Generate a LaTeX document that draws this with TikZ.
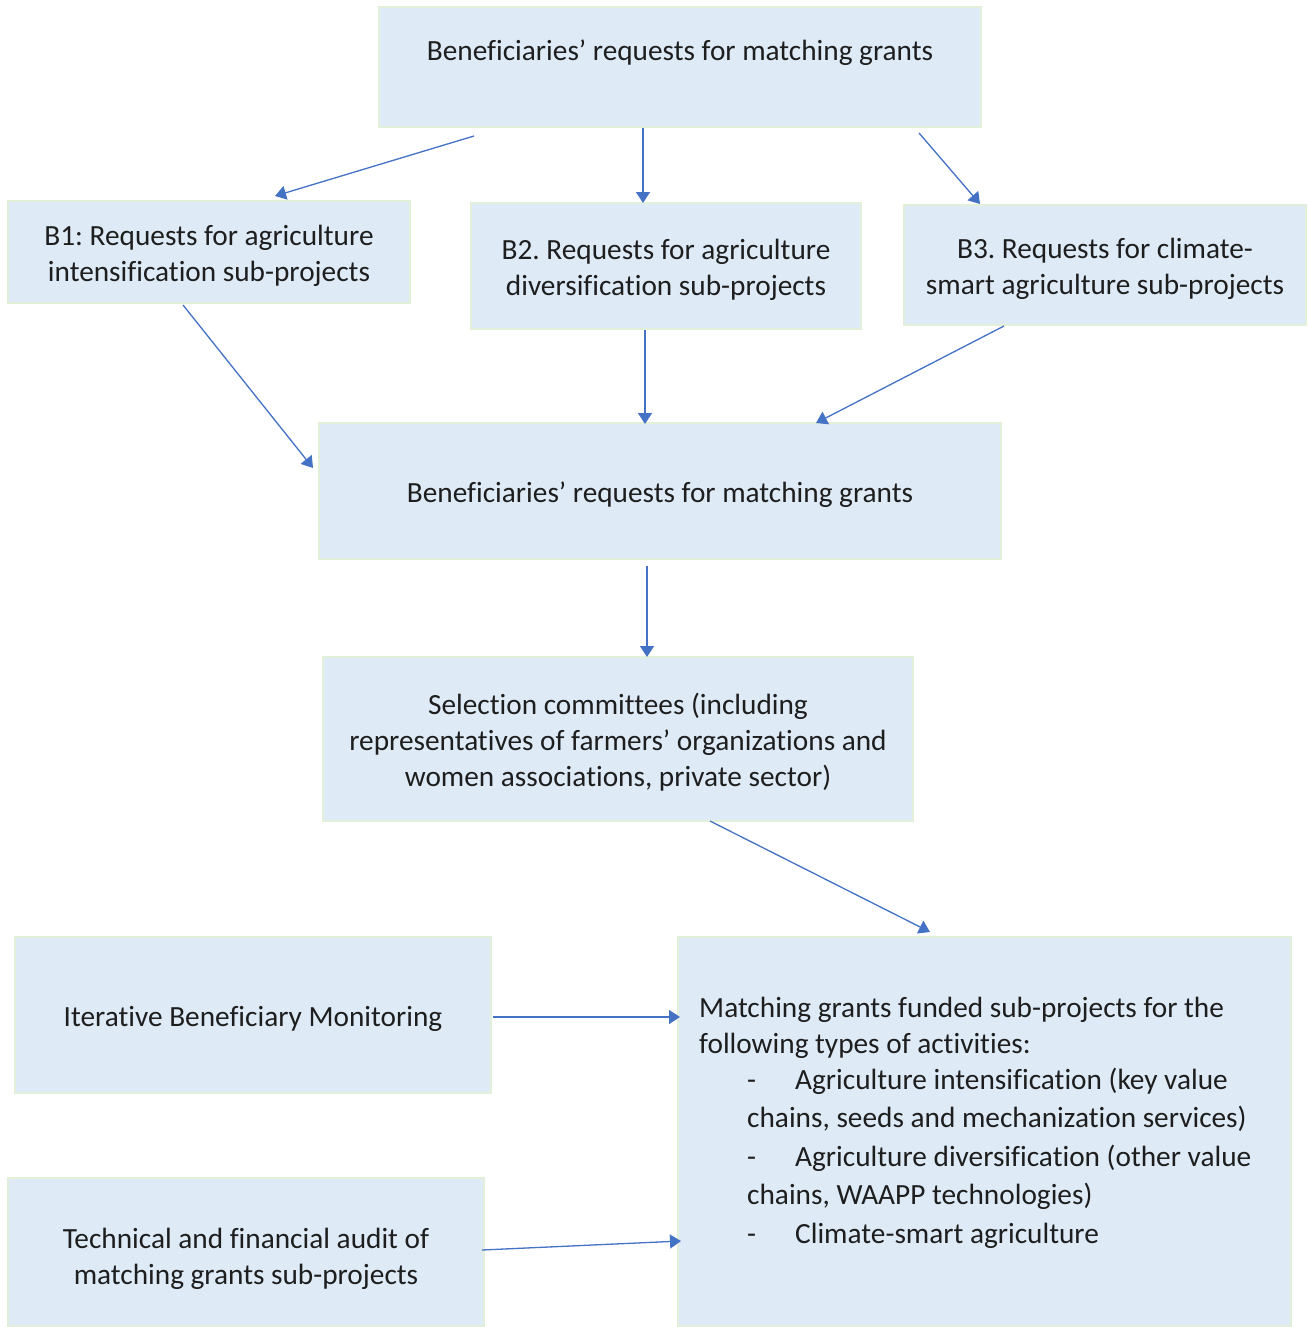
\documentclass[tikz,border=0pt]{standalone}
\usepackage{fontspec}
\setmainfont[Ligatures={NoCommon}]{Carlito}
\usetikzlibrary{arrows.meta}
\definecolor{boxfill}{RGB}{222,235,247}
\definecolor{boxline}{RGB}{226,240,217}
\definecolor{arrowblue}{RGB}{68,114,196}
\definecolor{txtcol}{RGB}{30,30,30}
\newcommand\firststrut{\rule{0pt}{31pt}}
\newcommand\laststrut{\rule[-8pt]{0pt}{0pt}}
\frenchspacing
\begin{document}
\begin{tikzpicture}[x=1pt,y=-1pt,
  box/.style={draw=boxline, line width=2.5pt, fill=boxfill, inner sep=0pt, outer sep=0pt,
    align=center, anchor=north west, text=txtcol,
    font=\fontsize{29.3}{36}\selectfont},
  boxtext/.style={inner sep=0pt, align=left, text=txtcol, font=\fontsize{29.3}{36}\selectfont},
  arr/.style={draw=arrowblue, line width=1.3pt, -{Triangle[width=14pt,length=11pt]}, fill=arrowblue}
]
\useasboundingbox (0,0) rectangle (1307,1327);

\node[box, minimum width=602pt, minimum height=120pt] (top) at (379,7)
  {\rule[-43pt]{0pt}{74pt}Beneficiaries’ requests for matching grants};
\node[box, minimum width=402pt, minimum height=102pt] (b1) at (8,201)
  {\firststrut B1: Requests for agriculture\\intensification sub-projects\laststrut};
\node[box, minimum width=390pt, minimum height=126pt] (b2) at (471,203)
  {\firststrut B2. Requests for agriculture\\diversification sub-projects\laststrut};
\node[box, minimum width=402pt, minimum height=120pt] (b3) at (904,205)
  {\firststrut B3. Requests for climate-\\smart agriculture sub-projects\laststrut};
\node[box, minimum width=682pt, minimum height=136pt] (mid) at (319,423)
  {\firststrut Beneficiaries’ requests for matching grants\laststrut};
\node[box, minimum width=590pt, minimum height=164pt] (sel) at (323,657)
  {\firststrut Selection committees (including\\representatives of farmers’ organizations and\\women associations, private sector)\laststrut};
\node[box, minimum width=476pt, minimum height=156pt] (itr) at (15,937)
  {\firststrut Iterative Beneficiary Monitoring\laststrut};
\node[box, minimum width=613pt, minimum height=389pt] (mat) at (678,937) {};
\node[box, minimum width=476pt, minimum height=148pt] (tec) at (8,1178)
  {\rule{0pt}{37pt}Technical and financial audit of\\matching grants sub-projects\laststrut};

\node[boxtext, anchor=north west] (mattext) at (699,996.5)
  {Matching grants funded sub-projects for the\\
   following types of activities:\\
   \hspace*{48pt}\makebox[48pt][l]{-}Agriculture intensification (key value\\[2.5pt]
   \hspace*{48pt}chains, seeds and mechanization services)\\[2.5pt]
   \hspace*{48pt}\makebox[48pt][l]{-}Agriculture diversification (other value\\[2.5pt]
   \hspace*{48pt}chains, WAAPP technologies)\\[2.5pt]
   \hspace*{48pt}\makebox[48pt][l]{-}Climate-smart agriculture};

\draw[arr] ([shift={(95,9)}]top.south west) -- ([shift={(-135,-5)}]b1.north east);
\draw[arr] ([shift={(-37,1)}]top.south) -- ([shift={(-23,0)}]b2.north);
\draw[arr] ([shift={(-62,6)}]top.south east) -- ([shift={(76,-1)}]b3.north west);
\draw[arr] ([shift={(175,2)}]b1.south west) -- ([shift={(-6,45)}]mid.north west);
\draw[arr] ([shift={(-21,1)}]b2.south) -- ([shift={(-15,1)}]mid.north);
\draw[arr] ([shift={(100,1)}]b3.south west) -- ([shift={(-185,0)}]mid.north east);
\draw[arr] ([shift={(-13,7)}]mid.south) -- ([shift={(29,0)}]sel.north);
\draw[arr] ([shift={(92,0)}]sel.south) -- ([shift={(-54.5,-5)}]mat.north);
\draw[arr] ([shift={(2,2)}]itr.east) -- ([shift={(2,80)}]mat.north west);
\draw[arr] ([shift={(-2,-2)}]tec.east) -- ([shift={(3,304)}]mat.north west);
\end{tikzpicture}
\end{document}
